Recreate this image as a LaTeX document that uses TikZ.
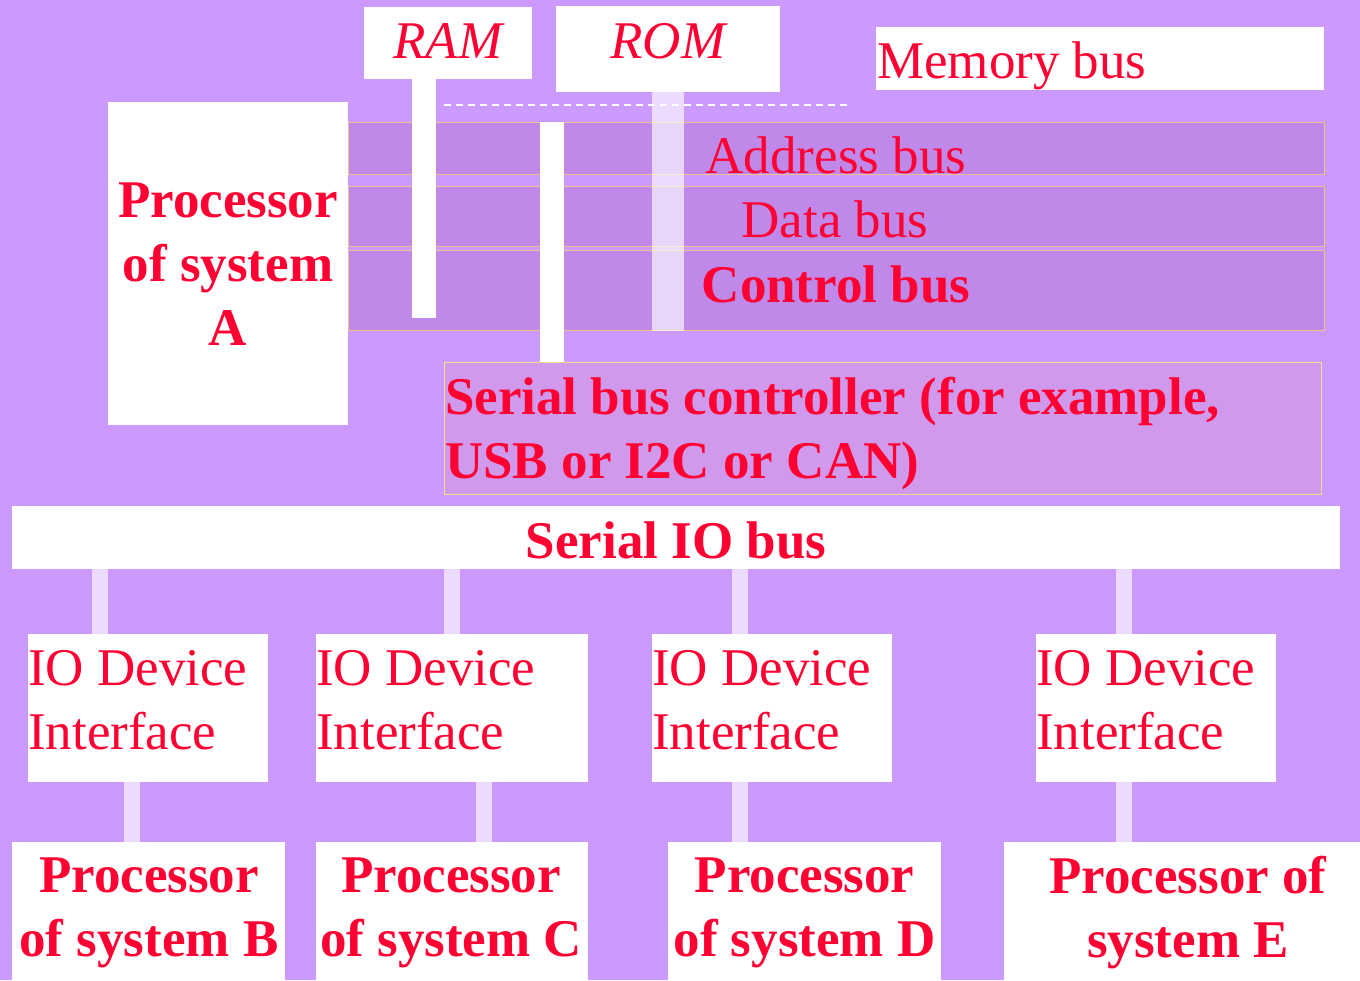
\documentclass[tikz,border=0pt]{standalone}
\usepackage{fontspec}
\setmainfont{Liberation Serif}
\usepackage{tikz}
\usetikzlibrary{positioning}
\definecolor{bgpurple}{RGB}{204,153,255}
\definecolor{buspurple}{RGB}{192,137,233}
\definecolor{bandline}{RGB}{240,192,144}
\definecolor{ctrlpurple}{RGB}{208,153,236}
\definecolor{ctrlline}{RGB}{240,224,140}
\definecolor{textred}{RGB}{255,0,51}

\begin{document}
\begin{tikzpicture}[x=1pt,y=-1pt]
\tikzstyle{box}=[rectangle, fill=white, inner sep=0pt]
\tikzstyle{band}=[rectangle, fill=buspurple, draw=bandline, line width=1pt, inner sep=0pt]
\tikzstyle{ctrlbox}=[rectangle, fill=ctrlpurple, draw=ctrlline, line width=1pt, inner sep=0pt]
\tikzstyle{txt}=[text=textred, inner sep=0pt, font=\fontsize{53}{64}\selectfont]
\tikzstyle{itxt}=[text=textred, inner sep=0pt, font=\fontsize{53}{64}\selectfont\itshape]
\tikzstyle{btxt}=[text=textred, inner sep=0pt, font=\fontsize{53}{64}\selectfont\bfseries]
\tikzstyle{wire}=[line width=24pt, white]
\tikzstyle{faint}=[line width=16pt, white, opacity=0.65]
\fill[bgpurple] (0,0) rectangle (1360,980);

	% memory side
	\node[box, minimum width=168pt, minimum height=72pt] (ram) at (448,43) {};
	\node[box, minimum width=224pt, minimum height=86pt] (rom) at (668,49) {};
	\node[box, minimum width=448pt, minimum height=63pt] (membus) at (1100,58.5) {};
	\node[box, minimum width=240pt, minimum height=323pt] (proc_a) at (228,263.5) {};
	\coordinate (dash_l) at (444,105);
	\coordinate (dash_r) at (852,105);
	\draw[white, line width=2pt, dash pattern=on 7pt off 5pt] (dash_l) -- (dash_r);
	\node[band, minimum width=976pt, minimum height=52pt] (addr) at (836,148) {};
	\node[band, minimum width=976pt, minimum height=60pt] (data) at (836,216) {};
	\node[band, minimum width=976pt, minimum height=80pt] (ctrl) at (836,290) {};
	\node[ctrlbox, minimum width=877pt, minimum height=132pt] (sbc) at (882.5,428) {};

	\coordinate (ram_end) at (424,318);
	\coordinate (sbc_stem) at (552,0);
	\draw[wire] (ram.south -| ram_end) -- (ram_end);
	\draw[wire] (addr.north -| sbc_stem) -- (sbc.north -| sbc_stem);
	\draw[faint, line width=32pt] (rom.south) -- (ctrl.south -| rom.south);

	% serial side
	\node[box, minimum width=1328pt, minimum height=63pt] (sio) at (676,537.5) {};
	\node[box, minimum width=240pt, minimum height=148pt] (io_b) at (148,708) {};
	\node[box, minimum width=272pt, minimum height=148pt] (io_c) at (452,708) {};
	\node[box, minimum width=240pt, minimum height=148pt] (io_d) at (772,708) {};
	\node[box, minimum width=240pt, minimum height=148pt] (io_e) at (1156,708) {};
	\node[box, minimum width=273pt, minimum height=138pt] (pr_b) at (148.5,911) {};
	\node[box, minimum width=272pt, minimum height=138pt] (pr_c) at (452,911) {};
	\node[box, minimum width=273pt, minimum height=138pt] (pr_d) at (804.5,911) {};
	\node[box, minimum width=356pt, minimum height=138pt] (pr_e) at (1182,911) {};

	\coordinate (up_b) at (100,0);
	\coordinate (up_c) at (452,0);
	\coordinate (dn_b) at (132,0);
	\coordinate (dn_c) at (484,0);
	\coordinate (dn_d) at (740,0);
	\coordinate (dn_e) at (1124,0);
	\path[faint]
		(sio.south -| up_b) edge (io_b.north -| up_b)
		(sio.south -| up_c) edge (io_c.north -| up_c)
		(sio.south -| dn_d) edge (io_d.north -| dn_d)
		(sio.south -| dn_e) edge (io_e.north -| dn_e)
		(io_b.south -| dn_b) edge (pr_b.north -| dn_b)
		(io_c.south -| dn_c) edge (pr_c.north -| dn_c)
		(io_d.south -| dn_d) edge (pr_d.north -| dn_d)
		(io_e.south -| dn_e) edge (pr_e.north -| dn_e);

	% texts
	\node[itxt, anchor=base] (ram_t) at (448,58) {RAM};
	\node[itxt, anchor=base] (rom_t) at (668,58) {ROM};
	\node[txt, anchor=base west] (membus_t) at (877,78) {Memory bus};
	\node[btxt, align=center] (proc_a_t) at (228,264.5) {Processor\\of system\\A};
	\node[txt, anchor=base] (addr_t) at (836,173) {Address bus};
	\node[txt, anchor=base] (data_t) at (835,237) {Data bus};
	\node[btxt, anchor=base] (ctrl_t) at (836,302) {Control bus};
	\node[btxt, align=left, anchor=west] (sbc_t) at (445,433) {Serial bus controller (for example,\\USB or I2C or CAN)};
	\node[btxt, anchor=base] (sio_t) at (676,558) {Serial IO bus};
	\node[txt, align=left, anchor=west] (io_b_t) at (28,700) {IO Device\\Interface};
	\node[txt, align=left, anchor=west] (io_c_t) at (316,700) {IO Device\\Interface};
	\node[txt, align=left, anchor=west] (io_d_t) at (652,700) {IO Device\\Interface};
	\node[txt, align=left, anchor=west] (io_e_t) at (1036,700) {IO Device\\Interface};
	\node[btxt, align=center] (pr_b_t) at (149,913) {Processor\\of system B};
	\node[btxt, align=center] (pr_c_t) at (451,913) {Processor\\of system C};
	\node[btxt, align=center] (pr_d_t) at (804.5,913) {Processor\\of system D};
	\node[btxt, align=center] (pr_e_t) at (1188,912.75) {Processor of\\system E};
\end{tikzpicture}
\end{document}
